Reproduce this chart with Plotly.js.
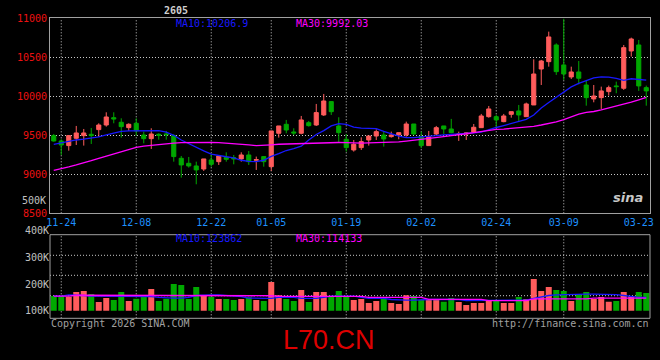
<!DOCTYPE html>
<html>
<head>
<meta charset="utf-8">
<script src="https://cdn.plot.ly/plotly-3.0.1.min.js"></script>
<style>
html,body{margin:0;padding:0;background:#000;}
#chart{width:660px;height:360px;}
</style>
</head>
<body>
<div id="chart"></div>
<script>
// ---- data ----
const dates = ["11-21","11-24","11-25","11-26","11-27","11-28","12-01","12-02","12-03","12-04","12-05",
"12-08","12-09","12-10","12-11","12-12","12-15","12-16","12-17","12-18","12-19",
"12-22","12-23","12-24","12-25","12-26","12-29","12-30","12-31",
"01-05","01-06","01-07","01-08","01-09","01-12","01-13","01-14","01-15","01-16",
"01-19","01-20","01-21","01-22","01-23","01-26","01-27","01-28","01-29","01-30",
"02-02","02-03","02-04","02-05","02-06","02-09","02-10","02-11","02-12","02-13",
"02-24","02-25","02-26","02-27","03-02","03-03","03-04","03-05","03-06",
"03-09","03-10","03-11","03-12","03-13","03-16","03-17","03-18","03-19","03-20","03-23","03-24"];

const open  = [9496,9427,9368,9462,9496,9513,9573,9632,9726,9667,
               9598,9654,9504,9457,9513,9517,9496,9205,9141,9107,
               9068,9184,9162,9218,9214,9197,9248,9180,9227,9098,
               9526,9641,9543,9526,9662,9632,9761,9932,9620,9449,
               9312,9342,9440,9491,9504,9483,9504,9504,9645,9483,
               9368,9517,9620,9581,9510,9517,9538,9598,9739,9739,
               9675,9769,9812,9739,9889,10350,10444,10658,10402,10248,
               10312,10145,9966,9983,10060,10133,10103,10581,10658,10111];
const high  = [9517,9449,9504,9620,9581,9594,9654,9795,9795,9718,
               9654,9718,9547,9590,9526,9556,9513,9235,9222,9162,
               9197,9256,9235,9282,9248,9282,9299,9227,9231,9556,
               9620,9697,9590,9748,9684,9902,10030,9932,9731,9517,
               9440,9474,9491,9577,9547,9547,9534,9675,9645,9547,
               9556,9620,9620,9710,9547,9538,9645,9774,9876,9761,
               9774,9803,9889,9919,10474,10466,10829,10679,10995,10380,
               10453,10197,10145,10124,10137,10188,10658,10752,10722,10137];
const low   = [9419,9248,9303,9376,9368,9389,9483,9611,9654,9470,
               9556,9496,9397,9325,9444,9444,9162,8957,9086,8872,
               9043,9098,9120,9162,9128,9162,9120,9056,9098,9043,
               9470,9526,9504,9513,9611,9620,9748,9761,9406,9291,
               9291,9312,9368,9440,9355,9470,9449,9483,9504,9334,
               9368,9504,9517,9526,9428,9440,9538,9598,9726,9603,
               9667,9726,9684,9739,9889,10145,10380,10274,10209,10222,
               10154,9880,9923,9838,10009,10039,10082,10509,10069,9880];
const close = [9427,9376,9496,9530,9530,9496,9632,9735,9709,9611,
               9641,9556,9457,9517,9500,9508,9227,9120,9107,9056,
               9197,9128,9235,9192,9197,9248,9162,9188,9162,9556,
               9620,9568,9530,9697,9624,9791,9940,9803,9534,9342,
               9385,9419,9491,9547,9453,9504,9534,9645,9517,9368,
               9483,9598,9581,9534,9516,9530,9603,9748,9838,9697,
               9748,9803,9761,9902,10286,10453,10761,10316,10286,10312,
               10231,9983,10004,10069,10111,10124,10624,10735,10133,10069];

const ma10 = [9385,9405,9425,9440,9450,9462,9480,9505,9530,9550,
              9558,9560,9560,9560,9560,9540,9500,9440,9390,9340,
              9300,9260,9240,9225,9210,9180,9165,9162,9180,9230,
              9265,9305,9330,9360,9440,9510,9560,9620,9650,9640,
              9605,9592,9590,9585,9550,9515,9490,9470,9470,9480,
              9485,9495,9505,9510,9515,9522,9530,9540,9575,9600,
              9625,9655,9680,9705,9760,9850,9920,9990,10060,10120,
              10165,10205,10235,10250,10245,10230,10205,10225,10220,10207];
const ma30 = [9050,9070,9095,9120,9145,9175,9205,9235,9265,9295,
              9320,9345,9360,9372,9385,9395,9400,9405,9408,9410,
              9410,9410,9405,9400,9390,9383,9376,9368,9370,9378,
              9385,9388,9390,9392,9400,9405,9408,9408,9408,9405,
              9400,9400,9402,9404,9405,9408,9415,9425,9435,9445,
              9460,9470,9482,9495,9505,9520,9535,9550,9565,9575,
              9580,9588,9595,9600,9615,9632,9650,9672,9700,9740,
              9770,9795,9805,9825,9848,9870,9900,9925,9955,9985];

// volume in thousands (K)
const volume = [155,155,152.5,170,174,162.5,132.5,147.5,140,170,
                136,145,152.5,181,136,145,200,196,144,189,
                159,151,144,144,140,144,150,140,136,207.5,
                157.5,144,136,177.5,132.5,170,170,151,174,151,
                140,144,129,136,144,129,125,157.5,155,140,
                144,144,134,147.5,132.5,121,129,129,140,136,
                129,129,151,144,219,174,189,177.5,174,136,
                162.5,170,144,151,134,136,170,155,170,166];
const volMa10 = [155,155,159,159,157,155,155,155,152.5,152.5,
                 152.5,152.5,152.5,152.5,150,147.5,147.5,147.5,150,157,
                 159,159,159,157,152.5,152.5,147.5,146,146,146,
                 150,150,150,146,146,146,150,155,155,155,
                 155,150,146,146,146,142,140,140,140,142,
                 142,142,142,142,142,137.5,137.5,137.5,137.5,137.5,
                 137.5,137.5,137.5,140,146,152,157,159,160,162.5,
                 162.5,162.5,162.5,162.5,162.5,160,157,152.5,150,150];
const volMa30 = [155,155,155,158,158,158,158,158,158,156,
                 156,156,156,156,156,156,156,156,156,156,
                 156,156,156,156,156,156,156,156,156,156,
                 154,154,154,154,154,154,154,154,154,154,
                 154,154,150,150,150,150,150,150,150,150,
                 142.5,142.5,142.5,142.5,142.5,142.5,142.5,142.5,137.5,137.5,
                 137.5,137.5,137.5,137.5,144,144,144,144,144,144,
                 144,144,147.5,147.5,147.5,147.5,147.5,147.5,147.5,147.5];

const gridDates  = ["11-24","12-08","12-22","01-05","01-19","02-02","02-24","03-09"];
const labelDates = ["11-24","12-08","12-22","01-05","01-19","02-02","02-24","03-09","03-23"];
const priceTicks = [8500,9000,9500,10000,10500,11000];
const volTicks   = [100,200,300,400];
const volTickText = ["100K","200K","300K","400K"];
const maText  = ["MA10:10206.9","MA30:9992.03"];
const volMaText = ["MA10:123862","MA30:114133"];

// ---- styles ----
const RED = '#ff5c5c', GREEN = '#00a800', BLUE = '#1818ff', MAG = '#ff00ff';
const MONO = 'DejaVu Sans Mono';
const FRAME = '#a0a0a0', GRID = '#c8c8c8';
const H = 360;
const py = p => 1 - p / H;           // pixel y -> paper y
const px = p => (p - 50) / 600;      // pixel x -> paper x

const volColors = volume.map((v, i) => close[i] >= open[i] ? RED : GREEN);

const traces = [
  {type:'candlestick', x:dates, open:open, high:high, low:low, close:close,
   xaxis:'x', yaxis:'y', hoverinfo:'skip',
   increasing:{line:{color:RED, width:1}, fillcolor:RED},
   decreasing:{line:{color:GREEN, width:1}, fillcolor:GREEN}},
  {type:'scatter', mode:'lines', x:dates, y:ma10, xaxis:'x', yaxis:'y',
   line:{color:BLUE, width:1.3}, hoverinfo:'skip'},
  {type:'scatter', mode:'lines', x:dates, y:ma30, xaxis:'x', yaxis:'y',
   line:{color:MAG, width:1.3}, hoverinfo:'skip'},
  {type:'bar', x:dates, y:volume, xaxis:'x2', yaxis:'y2',
   marker:{color:volColors, line:{width:0}}, hoverinfo:'skip'},
  {type:'scatter', mode:'lines', x:dates, y:volMa10, xaxis:'x2', yaxis:'y2',
   line:{color:BLUE, width:1.3}, hoverinfo:'skip'},
  {type:'scatter', mode:'lines', x:dates, y:volMa30, xaxis:'x2', yaxis:'y2',
   line:{color:MAG, width:1.3}, hoverinfo:'skip'}
];

const mainDom = [py(213.3), py(18.3)];
const volDom  = [py(310.7), py(230.7)];
const volFrame = [py(318.3), py(234.7)];

const shapes = [];
gridDates.forEach(d => {
  shapes.push({type:'line', xref:'x', yref:'paper', x0:d, x1:d, y0:mainDom[0], y1:mainDom[1],
               line:{color:GRID, width:1, dash:'1px,2px'}, layer:'below'});
  shapes.push({type:'line', xref:'x2', yref:'paper', x0:d, x1:d, y0:volFrame[0], y1:volFrame[1],
               line:{color:GRID, width:1, dash:'1px,2px'}, layer:'below'});
});
[255.3, 275.3, 295.7].forEach(p => {
  shapes.push({type:'line', xref:'paper', yref:'paper', x0:0, x1:1, y0:py(p), y1:py(p),
               line:{color:GRID, width:1, dash:'1px,2px'}, layer:'below'});
});
shapes.push({type:'rect', xref:'paper', yref:'paper', x0:0, x1:1, y0:volFrame[0], y1:volFrame[1],
             line:{color:FRAME, width:1}, fillcolor:'rgba(0,0,0,0)'});

const ann = (text, x, y, xa, color, size, extra) => Object.assign({
  text:text, x:x, y:y, xref:'paper', yref:'paper', xanchor:xa, yanchor:'middle',
  showarrow:false, font:{family:MONO, size:size, color:color}, borderpad:0
}, extra || {});

const annotations = [
  ann('2605', px(176), py(10), 'center', '#cfcfcf', 10, {font:{family:MONO, size:10, color:'#cfcfcf', weight:'bold'}}),
  ann(maText[0], px(175), py(23.3), 'left', BLUE, 10),
  ann(maText[1], px(295), py(23.3), 'left', MAG, 10),
  ann('500K', px(47), py(200), 'right', '#c0c0c0', 10),
  ann(volMaText[0], px(175), py(238.3), 'left', BLUE, 10),
  ann(volMaText[1], px(295), py(238.3), 'left', MAG, 10),
  ann('Copyright 2026 SINA.COM', px(50), py(323.3), 'left', '#a0a0a0', 10),
  ann('http://finance.sina.com.cn', px(650), py(323.3), 'right', '#a0a0a0', 10),
  ann('L70.CN', px(329), py(340), 'center', '#dd0000', 27, {font:{family:'Liberation Sans', size:27, color:'#dd0000'}}),
  ann('sina', px(628), py(197), 'center', '#c8c8c8', 13, {font:{family:'DejaVu Sans', size:13, color:'#c8c8c8', weight:'bold', style:'italic'}})
];

const layout = {
  width:660, height:360,
  margin:{l:50, r:10, t:0, b:0, pad:0},
  paper_bgcolor:'#000', plot_bgcolor:'#000',
  showlegend:false,
  boxmode:'overlay', boxgap:0.22,
  bargap:0.2,
  xaxis:{type:'category', categoryorder:'array', categoryarray:dates, range:[-0.5, 79.5],
         anchor:'y', domain:[0,1], rangeslider:{visible:false},
         tickvals:labelDates, ticktext:labelDates, ticks:'', showgrid:false, zeroline:false,
         showline:true, mirror:true, linecolor:FRAME, linewidth:1,
         tickfont:{family:MONO, size:10, color:'#1e90ff'}, fixedrange:true},
  yaxis:{domain:mainDom, range:[8500, 11000], anchor:'x',
         tickvals:priceTicks, ticktext:priceTicks.map(String), ticks:'',
         showgrid:true, gridcolor:GRID, griddash:'1px,2px', gridwidth:1, zeroline:false,
         showline:true, mirror:true, linecolor:FRAME, linewidth:1,
         tickfont:{family:MONO, size:10, color:'#ee1111'}, fixedrange:true},
  xaxis2:{type:'category', categoryorder:'array', categoryarray:dates, matches:'x',
          anchor:'y2', domain:[0,1], showticklabels:false, showgrid:false, zeroline:false,
          showline:false, ticks:'', fixedrange:true},
  yaxis2:{domain:volDom, range:[100, 400], anchor:'x2',
          tickvals:volTicks, ticktext:volTickText, ticks:'', showgrid:false, zeroline:false,
          showline:false, tickfont:{family:MONO, size:10, color:'#c0c0c0'}, fixedrange:true},
  shapes:shapes,
  annotations:annotations
};

Plotly.newPlot('chart', traces, layout, {staticPlot:true, displayModeBar:false});
</script>
</body>
</html>
